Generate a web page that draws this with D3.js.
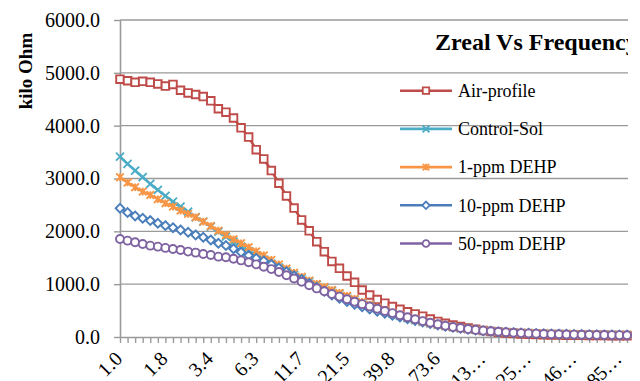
<!DOCTYPE html>
<html>
<head>
<meta charset="utf-8">
<script src="https://cdn.jsdelivr.net/npm/d3@7"></script>
<style>
  body { margin: 0; background: #fff; }
  svg { display: block; }
  svg text { font-family: "Liberation Serif", Tinos, "Times New Roman", Times, "Nimbus Roman", "DejaVu Serif", FreeSerif, serif; }
</style>
</head>
<body>
<svg width="640" height="381"></svg>
<script>
/*----------- Data ----------- */
const freqs = ["1.0","1.1","1.2","1.4","1.5","1.7","1.8","2.0","2.3","2.5","2.8","3.1","3.4","3.8","4.2","4.6","5.1","5.7","6.3","7.0",
  "7.7","8.6","9.5","10.5","11.7","12.9","14.3","15.8","17.6","19.4","21.5","23.9","26.4","29.3","32.4","35.9","39.8","44.1","48.9","54.1",
  "60.0","66.4","73.6","81.5","90.3","100.0","110.8","122.7","135.9","150.6","166.8","184.8","204.7","226.8","251.2","278.3","308.3","341.5","378.3","419.0",
  "464.2","514.2","569.6","631.0","699.0","774.3","857.7","950.1"];

const airProfile = [4880,4850,4820,4840,4820,4790,4750,4780,4670,4620,4590,4550,4470,4320,4255,4145,3960,3785,3545,3370,
  3150,2910,2670,2440,2215,2010,1805,1615,1430,1300,1155,1035,890,795,710,640,575,525,478,436,
  395,340,295,260,227,197,172,145,122,103,88,76,66,58,52,47,43,40,37,35,
  33,31,29,28,27,26,25,24];

const controlSol = [3415,3277,3150,3025,2898,2784,2670,2563,2468,2373,2267,2184,2089,1994,1900,1805,1710,1625,1545,1465,
  1390,1315,1245,1175,1110,1050,990,930,875,820,765,710,655,605,555,495,445,400,358,320,
  287,257,230,206,185,166,149,134,121,110,100,92,85,79,73,68,64,60,57,54,
  51,49,47,45,43,42,41,40];

const ppm1 = [3025,2923,2835,2752,2689,2608,2532,2468,2392,2330,2267,2184,2102,2013,1932,1850,1775,1700,1620,1545,
  1460,1375,1295,1215,1140,1070,1005,945,890,835,780,722,665,612,560,510,460,413,370,330,
  295,263,235,210,188,168,150,135,122,111,101,93,86,80,74,69,65,61,58,55,
  52,50,48,46,44,43,42,41];

const ppm10 = [2437,2355,2292,2248,2203,2153,2108,2070,2027,1983,1932,1888,1837,1775,1730,1670,1605,1545,1490,1440,
  1375,1305,1235,1160,1090,1015,940,865,795,732,673,620,572,528,487,450,413,378,345,313,
  283,255,229,205,184,164,147,132,119,107,97,89,82,76,70,65,61,57,54,51,
  48,46,44,42,40,39,38,37];

const ppm50 = [1856,1824,1793,1761,1729,1710,1686,1667,1648,1616,1597,1572,1553,1521,1509,1480,1450,1415,1375,1330,
  1285,1230,1170,1108,1045,980,920,865,815,765,715,668,622,578,535,493,452,412,373,336,
  301,269,240,214,190,169,150,134,120,108,98,89,81,74,68,63,58,54,51,48,
  45,43,41,39,37,36,35,34];

const seriesNames = ["Air-profile", "Control-Sol", "1-ppm DEHP", "10-ppm DEHP", "50-ppm DEHP"];
const yTicks = [0, 1000, 2000, 3000, 4000, 5000, 6000];
const labelStep = 6;

/*----------- Styles ----------- */
const gridColor = "#9a9a9a";

const series = [
  { name: seriesNames[0], values: airProfile, color: "#be4b48", marker: "square" },
  { name: seriesNames[1], values: controlSol, color: "#4bacc6", marker: "x" },
  { name: seriesNames[2], values: ppm1, color: "#f79646", marker: "star" },
  { name: seriesNames[3], values: ppm10, color: "#4a7ebb", marker: "diamond" },
  { name: seriesNames[4], values: ppm50, color: "#7e62a1", marker: "circle" },
];

/*----------- Scales ----------- */
const plot = { left: 120, right: 627, top: 20, bottom: 337 };
const x = d3.scalePoint().domain(d3.range(freqs.length)).range([plot.left, plot.right]);
const y = d3.scaleLinear().domain([0, 6000]).range([plot.bottom, plot.top]);

const svg = d3.select("svg");

// gridlines
svg.append("g")
  .selectAll("line")
  .data(yTicks.filter((t) => t > 0))
  .enter()
  .append("line")
  .attr("x1", plot.left)
  .attr("x2", plot.right + 1)
  .attr("y1", (d) => y(d))
  .attr("y2", (d) => y(d))
  .attr("stroke", gridColor)
  .attr("stroke-width", 1.4);

// y axis
const yAxis = d3.axisLeft(y).tickValues(yTicks).tickSize(6).tickSizeOuter(0).tickPadding(14)
  .tickFormat(d3.format(".1f"));
const gy = svg.append("g").attr("transform", "translate(" + plot.left + ",0)").call(yAxis);
gy.attr("font-family", null);
gy.select(".domain").attr("stroke", gridColor).attr("stroke-width", 1.6);
gy.selectAll(".tick line").attr("stroke", gridColor).attr("stroke-width", 1.4);
gy.selectAll(".tick text").attr("font-size", 20).attr("fill", "#000");

// x axis, one label every 6 categories, long ones cut like in Excel
const shortLabel = (s) => (s.length > 4 ? s.slice(0, 2) + "\u2026" : s);
const xAxis = d3.axisBottom(x).tickSize(6).tickSizeOuter(0)
  .tickFormat((d) => (d % labelStep === 0 ? shortLabel(freqs[d]) : ""));
const gx = svg.append("g").attr("transform", "translate(0," + plot.bottom + ")").call(xAxis);
gx.attr("font-family", null);
gx.select(".domain").attr("stroke", gridColor).attr("stroke-width", 1.6);
gx.selectAll(".tick line").attr("stroke", gridColor).attr("stroke-width", 1.4);
gx.selectAll(".tick text")
  .attr("font-size", 20)
  .attr("fill", "#000")
  .attr("text-anchor", "end")
  .attr("x", 0)
  .attr("y", 0)
  .attr("dy", 0)
  .attr("transform", "translate(3,23) rotate(-45)");

// y axis title
svg.append("text")
  .attr("transform", "translate(32,71) rotate(-90)")
  .attr("text-anchor", "middle")
  .attr("font-size", 19)
  .attr("font-weight", "bold")
  .text("kilo Ohm");

/*----------- Markers ----------- */
function markerPath(type, s) {
  if (type === "square") return "M" + -s + "," + -s + "h" + 2 * s + "v" + 2 * s + "h" + -2 * s + "Z";
  if (type === "diamond") return "M0," + -s + "L" + s + ",0L0," + s + "L" + -s + ",0Z";
  if (type === "circle") return d3.symbol(d3.symbolCircle, Math.PI * s * s)();
  let p = "M" + -s + "," + -s + "L" + s + "," + s + "M" + -s + "," + s + "L" + s + "," + -s;
  if (type === "star") p += "M0," + -s + "L0," + s;
  return p;
}
const markerSize = { square: 3.8, x: 4, star: 3.8, diamond: 4.4, circle: 4 };

const line = d3.line().x((d, i) => x(i)).y((d) => y(d));

svg.append("clipPath").attr("id", "plotclip")
  .append("rect").attr("x", 0).attr("y", 0).attr("width", 632).attr("height", 381);

series.forEach((s) => {
  const g = svg.append("g").attr("clip-path", "url(#plotclip)");
  g.append("path")
    .datum(s.values)
    .attr("fill", "none")
    .attr("stroke", s.color)
    .attr("stroke-width", 2.6)
    .attr("stroke-linejoin", "round")
    .attr("d", line);
  g.selectAll("path.m")
    .data(s.values)
    .enter()
    .append("path")
    .attr("class", "m")
    .attr("transform", (d, i) => "translate(" + x(i) + "," + y(d) + ")")
    .attr("d", markerPath(s.marker, markerSize[s.marker]))
    .attr("fill", s.marker === "x" || s.marker === "star" ? "none" : "#fff")
    .attr("stroke", s.color)
    .attr("stroke-width", 1.9);
});

/*----------- Title (cut at the plot edge) ----------- */
svg.append("clipPath").attr("id", "titleclip")
  .append("rect").attr("x", 0).attr("y", 0).attr("width", plot.right + 1).attr("height", 381);
svg.append("text")
  .attr("clip-path", "url(#titleclip)")
  .attr("x", 435)
  .attr("y", 50)
  .attr("font-size", 24)
  .attr("font-weight", "bold")
  .text("Zreal Vs Frequency");

/*----------- Legend ----------- */
const legend = svg.append("g")
  .selectAll("g")
  .data(series)
  .enter()
  .append("g")
  .attr("transform", (d, i) => "translate(400," + (90.7 + i * 38.2) + ")");
legend.append("line")
  .attr("x1", 0).attr("x2", 52)
  .attr("stroke", (d) => d.color)
  .attr("stroke-width", 2.6);
legend.append("path")
  .attr("transform", "translate(26,0)")
  .attr("d", (d) => markerPath(d.marker, markerSize[d.marker] * 0.85))
  .attr("fill", (d) => (d.marker === "x" || d.marker === "star" ? "none" : "#fff"))
  .attr("stroke", (d) => d.color)
  .attr("stroke-width", 1.8);
legend.append("text")
  .attr("x", 58)
  .attr("dy", "0.35em")
  .attr("font-size", 18)
  .text((d) => d.name);
</script>
</body>
</html>
